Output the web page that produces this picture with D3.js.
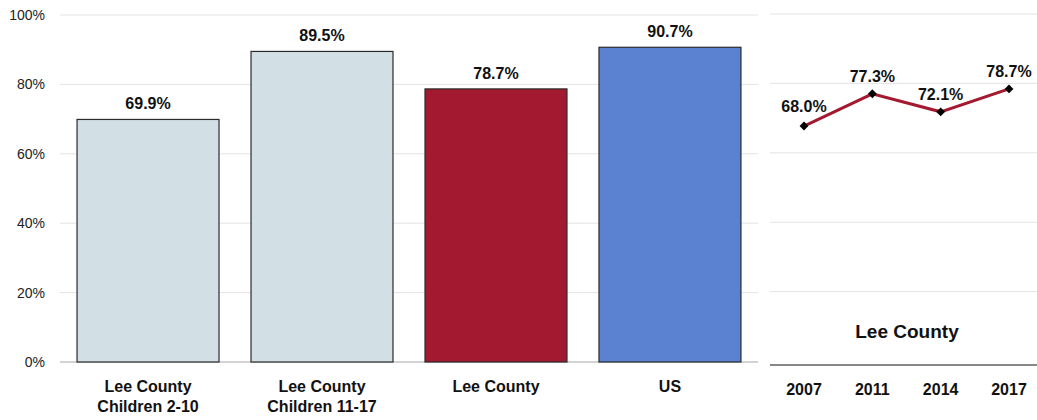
<!DOCTYPE html>
<html><head><meta charset="utf-8">
<script src="https://cdn.jsdelivr.net/npm/d3@7"></script>
<style>body{margin:0;background:#fff}svg{display:block;font-family:"Liberation Sans",Arial,sans-serif}</style>
</head><body><svg id="c" width="1037" height="420"></svg>
<script>
const barCategories = [["Lee County","Children 2-10"],["Lee County","Children 11-17"],["Lee County"],["US"]];
const barValues = [69.9, 89.5, 78.7, 90.7];
const barColors = ["#d2dfe4","#d2dfe4","#a3192f","#5b82d1"];
const yTicks = [0,20,40,60,80,100];
const years = ["2007","2011","2014","2017"];
const trendValues = [68.0, 77.3, 72.1, 78.7];
const trendTitle = "Lee County";

const svg = d3.select("#c");
const y = d3.scaleLinear().domain([0,100]).range([362,15]);

// left gridlines
svg.append("g").selectAll("line").data(yTicks).join("line")
  .attr("x1",60).attr("x2",758).attr("y1",d=>y(d)).attr("y2",d=>y(d))
  .attr("stroke",d=>d===0?"#a6a6a6":"#e3e3e3").attr("stroke-width",1);
svg.append("g").selectAll("text").data(yTicks).join("text")
  .attr("x",45).attr("y",d=>y(d)).attr("dy","0.35em").attr("text-anchor","end")
  .attr("font-size",14).attr("fill","#222").text(d=>d+"%");

const x = d3.scaleBand().domain(d3.range(barValues.length)).range([60,758]).paddingInner(0.184).paddingOuter(0.098);
svg.append("g").selectAll("rect").data(barValues).join("rect")
  .attr("x",(d,i)=>x(i)).attr("width",x.bandwidth())
  .attr("y",d=>y(d)).attr("height",d=>y(0)-y(d))
  .attr("fill",(d,i)=>barColors[i]).attr("stroke","#2b2b2b").attr("stroke-width",1.2);
svg.append("g").selectAll("text").data(barValues).join("text")
  .attr("x",(d,i)=>x(i)+x.bandwidth()/2).attr("y",d=>y(d)-10)
  .attr("text-anchor","middle").attr("font-size",16).attr("font-weight","bold").attr("fill","#111")
  .text(d=>d.toFixed(1)+"%");
const cat = svg.append("g").selectAll("text").data(barCategories).join("text")
  .attr("x",(d,i)=>x(i)+x.bandwidth()/2).attr("y",392)
  .attr("text-anchor","middle").attr("font-size",16).attr("font-weight","bold").attr("fill","#111");
cat.selectAll("tspan").data(d=>d).join("tspan")
  .attr("x",function(){return this.parentNode.getAttribute("x");})
  .attr("dy",(d,i)=>i===0?0:20).text(d=>d);

// right chart
svg.append("g").selectAll("line").data(yTicks.filter(d=>d>0)).join("line")
  .attr("x1",770).attr("x2",1037).attr("y1",d=>y(d)-1).attr("y2",d=>y(d)-1)
  .attr("stroke","#e3e3e3");
svg.append("line").attr("x1",770).attr("x2",1037).attr("y1",365).attr("y2",365).attr("stroke","#111").attr("stroke-width",1.2);
const x2 = d3.scalePoint().domain(years).range([804,1009]);
svg.append("path").datum(trendValues)
  .attr("d",d3.line().x((d,i)=>x2(years[i])).y(d=>y(d)))
  .attr("fill","none").attr("stroke","#a3192f").attr("stroke-width",3);
svg.append("g").selectAll("path").data(trendValues).join("path")
  .attr("transform",(d,i)=>`translate(${x2(years[i])},${y(d)})`)
  .attr("d",d3.symbol().type(d3.symbolDiamond2).size(50)).attr("fill","#000");
svg.append("g").selectAll("text").data(trendValues).join("text")
  .attr("x",(d,i)=>x2(years[i])).attr("y",(d,i)=>y(d)-(i===0?14:12))
  .attr("text-anchor","middle").attr("font-size",16).attr("font-weight","bold").attr("fill","#111")
  .text(d=>d.toFixed(1)+"%");
svg.append("g").selectAll("text").data(years).join("text")
  .attr("x",d=>x2(d)).attr("y",395).attr("text-anchor","middle")
  .attr("font-size",16).attr("font-weight","bold").attr("fill","#111").text(d=>d);
svg.append("text").attr("x",907).attr("y",338).attr("text-anchor","middle")
  .attr("font-size",19).attr("font-weight","bold").attr("fill","#111").text(trendTitle);
</script></body></html>
